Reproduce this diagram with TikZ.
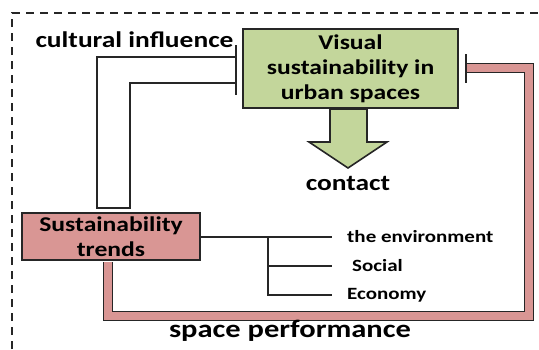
\documentclass[tikz,border=0pt]{standalone}
\usepackage{fontspec}
\setmainfont{Carlito}[FakeStretch=1.22]
\usetikzlibrary{calc}
\definecolor{boxgreen}{HTML}{C3D69B}
\definecolor{boxpink}{HTML}{D99694}
\definecolor{ink}{HTML}{262626}
\tikzset{
  box/.style={draw=ink, line width=2pt, align=center, inner sep=0pt,
    font=\fontsize{21}{25}\selectfont\bfseries},
  link/.style={draw=ink, line width=2pt},
  stopbar/.style={draw=ink, line width=2.5pt},
  band/.style={draw=ink, line width=1.6pt, double=boxpink, double distance=7.5pt},
  bigtext/.style={font=\fontsize{22.5}{26}\selectfont\bfseries, inner sep=0pt},
  smalltext/.style={font=\fontsize{17.2}{20}\selectfont\bfseries, inner sep=0pt, anchor=west},
}
\begin{document}
\begin{tikzpicture}[x=1pt,y=-1pt]
\useasboundingbox (0,0) rectangle (539,349);

% dashed frame (top and left edges)
\draw[ink, line width=2.5pt, dash pattern=on 8pt off 6pt] (12,349) -- (12,13) -- (539,13);

% main boxes
\node[box, fill=boxgreen, minimum width=215pt, minimum height=79pt] (vis) at (350.5,68.5)
  {Visual\\sustainability in\\urban spaces};
\node[box, fill=boxpink, minimum width=178pt, minimum height=47pt] (trend) at (111,236.5)
  {Sustainability\\trends};

% block arrow towards "contact"
\draw[ink, line width=1.6pt, fill=boxgreen]
  (330,109) -- (367,109) -- (367,142) -- (387,142) -- (348,168) -- (309,142) -- (330,142) -- cycle;
\node[bigtext] (contact) at (348,183) {contact};

% cultural influence loop with stop bar
\node[bigtext] (cult) at (134.5,40) {cultural influence};
\coordinate (barTop) at ($(vis.west)+(-6,-23.5)$);
\coordinate (barBot) at ($(vis.west)+(-6,26.5)$);
\draw[link] ($(vis.west)+(-6,-11.5)$) -| (97,208) -| (130,83) -- ($(vis.west)+(-6,14.5)$);
\draw[stopbar] (barTop) -- (barBot);

% branches to the three dimensions
\node[smalltext] (env) at (347,237) {the environment};
\node[smalltext] (soc) at (352,265.5) {Social};
\node[smalltext] (eco) at (347,295) {Economy};
\coordinate (fork) at (268,237);
\draw[link] (trend.east |- fork) -- ($(env.west)+(-15,0)$);
\draw[link] (fork) -- (fork |- eco) -- ($(eco.west)+(-15,0)$);
\draw[link] (fork |- soc) -- ($(soc.west)+(-20,0)$);

% space performance band with stop bar
\draw[band] ($(trend.south)+(-3,1)$) -- (108,316) -- (529,316) -- (529,68) -- ($(vis.east)+(8,-0.5)$);
\draw[stopbar] ($(vis.east)+(7,-14.5)$) -- ($(vis.east)+(7,14.5)$);
\node[font=\fontsize{25}{29}\selectfont\bfseries, inner sep=0pt] (perf) at (290,331) {space performance};
\end{tikzpicture}
\end{document}
